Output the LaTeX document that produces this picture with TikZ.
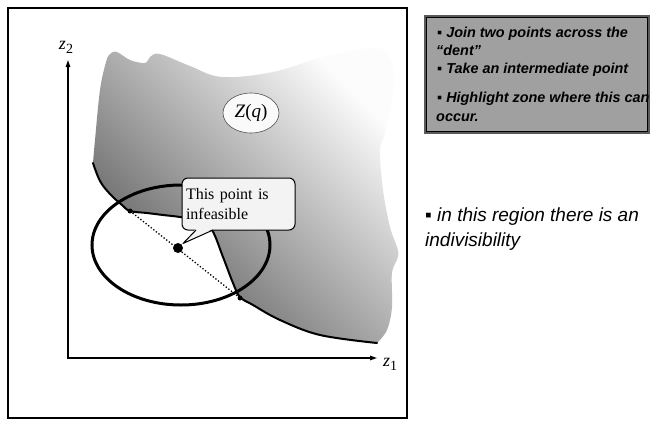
\documentclass[tikz,border=0pt]{standalone}
\usepackage{fontspec}
\setmainfont{Liberation Serif}
\newfontfamily\arialfont{Liberation Sans}
\usetikzlibrary{arrows.meta,shapes.geometric}
\definecolor{shdark}{RGB}{90,90,90}
\definecolor{shlight}{RGB}{252,252,252}
\definecolor{calloutfill}{RGB}{243,243,243}
\definecolor{boxfill}{RGB}{160,160,160}
\definecolor{boxedge}{RGB}{90,90,90}
\begin{document}
\begin{tikzpicture}[x=1pt,y=-1pt,
  framebox/.style={draw=black,line width=1.6pt},
  boundary/.style={line width=2pt,line join=round,line cap=round},
  axisline/.style={line width=1.3pt,{Triangle[length=7pt,width=4.5pt]}-{Triangle[length=7pt,width=4.5pt]}},
  dotpt/.style={circle,fill=black,inner sep=0pt,minimum size=#1},
  boxtext/.style={font=\fontsize{14.4}{16}\selectfont\arialfont\bfseries\itshape,anchor=base west,inner sep=0pt},
  sidetext/.style={font=\fontsize{19}{22}\selectfont\arialfont\itshape,anchor=base west,inner sep=0pt},
  axlabel/.style={font=\fontsize{18}{18}\selectfont,inner sep=0pt},
  graybox/.style={draw=boxedge,line width=1.6pt,fill=boxfill,anchor=north west,inner sep=0pt},
  zqstyle/.style={ellipse,draw={rgb,255:red,80;green,80;blue,80},line width=0.6pt,fill={rgb,255:red,250;green,250;blue,250},minimum width=56pt,minimum height=40pt,inner sep=0pt,font=\fontsize{19}{19}\selectfont},
  calloutbox/.style={draw=black,line width=1pt,fill=calloutfill,rounded corners=6pt,minimum width=113pt,minimum height=52pt,text width=105pt,align=left,inner sep=4pt,font=\fontsize{16}{20}\selectfont}
]
\useasboundingbox (0,0) rectangle (654,421);
\fill[white] (0,0) rectangle (654,421);
\draw[framebox] (8,8) rectangle (407,418);

% shaded region
\shade[top color=shlight,bottom color=shdark,shading angle=-45]
  plot[smooth,tension=0.6] coordinates {(93,163) (100,181) (110,194) (122,205) (130,211) (147,213) (163,215) (180,217) (200,221) (212,230) (223,257) (233,283) (240,297) (253,305) (280,320) (320,335) (377,343)}
  -- plot[smooth,tension=0.6] coordinates {(377,343) (387,330) (392,307) (392,273) (398,257) (397,247) (390,227) (383,190) (380,150) (385,133) (393,90) (393,68) (388,55) (373,48) (323,57) (273,72) (222,77) (190,66) (160,54) (150,57) (145,63) (130,60) (117,52) (110,54) (106,62) (100,90) (95,140) (93,163)}
  -- cycle;

% boundary of the region
\draw[boundary] plot[smooth,tension=0.6] coordinates {(93,163) (100,181) (110,194) (122,205) (130,211) (147,213) (163,215) (180,217) (200,221) (212,230) (223,257) (233,283) (240,297) (253,305) (280,320) (320,335) (377,343)};

% ellipse
\draw[line width=3pt] (181,245) ellipse [x radius=89, y radius=60];

% points and dotted chord
\node[dotpt=5pt] (p1) at (130,211) {};
\node[dotpt=5pt] (p2) at (240,298) {};
\node[dotpt=10pt] (mid) at (178,248) {};
\draw[line width=1.3pt,dotted] (p1.center) -- (p2.center);

% Z(q)
\node[zqstyle] (zq) at (251,113) {\textit{Z}(\textit{q})};

% callout
\node[calloutbox] (callout) at (238.5,204) {This point is\\infeasible};
\coordinate (pa) at (196,230);
\coordinate (pb) at (213,230);
\coordinate (tip) at (183,243.5);
\fill[calloutfill] ([yshift=1.2pt]pa) -- (tip) -- ([yshift=1.2pt]pb) -- cycle;
\draw[line width=1pt,line join=round] (pa) -- (tip) -- (pb);

% axes
\coordinate (Ytop) at (68,60);
\coordinate (O) at (68,358);
\coordinate (Xend) at (377,358);
\draw[axisline] (Ytop) -- (O) -- (Xend);
\node[axlabel] (z2) at (66,47) {\textit{z}\raisebox{-4pt}{\fontsize{14}{14}\selectfont 2}};
\node[axlabel] (z1) at (390,364) {\textit{z}\raisebox{-4pt}{\fontsize{14}{14}\selectfont 1}};

% gray box with bullets
\node[graybox,minimum width=224pt,minimum height=117pt] (box) at (424,15) {};
\draw[line width=0.8pt,black] ([shift={(2.6,2.6)}]box.north west) rectangle ([shift={(-2.6,-2.6)}]box.south east);
\node[boxtext] (t1a) at (437,37) {▪ Join two points across the};
\node[boxtext] (t1b) at (436,55) {“dent”};
\node[boxtext] (t2) at (437,73) {▪ Take an intermediate point};
\node[boxtext] (t3a) at (437,102) {▪ Highlight zone where this can};
\node[boxtext] (t3b) at (436,121) {occur.};

% side text
\node[sidetext] (s1) at (425,221) {▪ in this region there is an};
\node[sidetext] (s2) at (425,246) {indivisibility};
\end{tikzpicture}
\end{document}
